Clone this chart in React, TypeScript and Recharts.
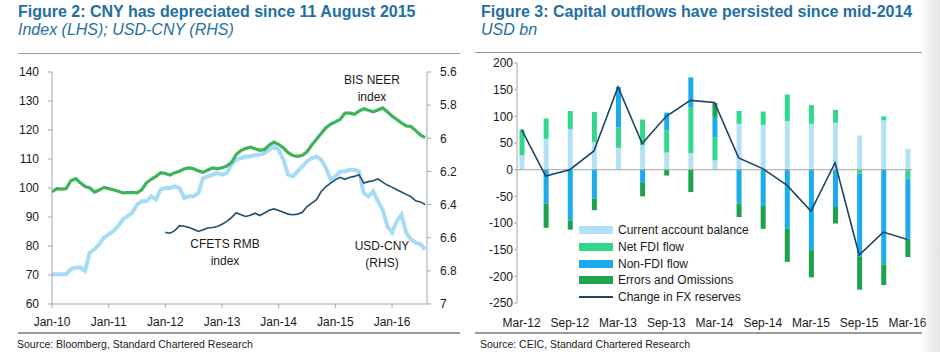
import React from "react";
import {
  LineChart, Line, XAxis, YAxis,
  ComposedChart, Bar, ReferenceLine, Legend,
} from "recharts";

const FONT = "'Liberation Sans', Arial, Helvetica, sans-serif";
const TITLE_BLUE = "#1f6fa3";
const RULE = "#9a9a9a";
const AXIS = "#a6a6a6";
const TXT = "#1a1a1a";

// ---- Figure 2: monthly, Jan-10 .. Aug-16
const yearLabels = ["Jan-10", "Jan-11", "Jan-12", "Jan-13", "Jan-14", "Jan-15", "Jan-16"];

const bisNeer = [
  98.6, 99.8, 99.6, 99.8, 102.5, 103.2, 101.8, 100.5, 100.0, 98.6, 99.3, 100.2,
  99.8, 99.4, 98.9, 98.3, 98.4, 98.5, 98.3, 99.4, 101.8, 103.0, 104.0, 105.3,
  105.0, 104.5, 105.3, 105.8, 106.6, 106.9, 106.6, 105.9, 105.4, 106.2, 106.9, 106.6,
  107.0, 107.6, 108.8, 111.5, 112.9, 113.6, 114.1, 113.5, 113.0, 113.3, 114.8, 115.8,
  115.0, 113.8, 112.2, 111.2, 110.9, 111.3, 112.5, 114.8, 116.8, 118.8, 120.8, 122.0,
  122.8, 123.6, 125.8, 125.9, 125.4, 126.5, 127.3, 126.8, 126.3, 126.9, 127.6, 126.3,
  124.8, 123.6, 122.4, 121.4, 121.2, 119.8, 118.3, 117.4,
];

const usdCny = [
  6.82, 6.82, 6.82, 6.82, 6.79, 6.78, 6.78, 6.80, 6.69, 6.67, 6.64, 6.60,
  6.58, 6.56, 6.53, 6.49, 6.47, 6.45, 6.40, 6.38, 6.38, 6.35, 6.37, 6.31,
  6.30, 6.30, 6.29, 6.30, 6.36, 6.35, 6.35, 6.33, 6.24, 6.23, 6.22, 6.21,
  6.22, 6.21, 6.16, 6.13, 6.12, 6.11, 6.11, 6.10, 6.10, 6.09, 6.07, 6.05,
  6.07, 6.13, 6.22, 6.23, 6.20, 6.17, 6.14, 6.12, 6.11, 6.13, 6.18, 6.25,
  6.23, 6.20, 6.20, 6.19, 6.19, 6.20, 6.33, 6.35, 6.32, 6.38, 6.43, 6.53,
  6.57, 6.50, 6.46, 6.57, 6.61, 6.63, 6.64, 6.67,
];

// CFETS series starts Jan-12 (month 24)
const CFETS_START = 24;
const cfets = [
  84.7, 84.4, 85.3, 87.0, 86.8, 86.4, 85.8, 85.0, 85.6, 86.2, 86.4, 86.7,
  87.5, 88.5, 89.8, 91.5, 90.8, 90.2, 90.6, 91.3, 90.5, 91.4, 92.3, 92.8,
  92.2, 91.6, 91.0, 90.8, 91.0, 91.6, 93.6, 94.8, 96.0, 98.8, 100.5, 101.7,
  102.8, 103.7, 103.0, 103.6, 104.0, 104.6, 101.7, 102.2, 102.5, 103.1, 102.0, 101.0,
  100.3, 99.4, 98.6, 97.8, 97.0, 95.6, 95.2, 94.3,
];

const leftTicks = [60, 70, 80, 90, 100, 110, 120, 130, 140];
const rightTicks = [5.6, 5.8, 6, 6.2, 6.4, 6.6, 6.8, 7];

const fxRows = bisNeer.map((v, m) => ({
  m,
  neer: v,
  usd: usdCny[m],
  cfets: m >= CFETS_START ? cfets[m - CFETS_START] : null,
}));

// ---- Figure 3: quarterly, USD bn
const quarters = [
  "Mar-12", "Jun-12", "Sep-12", "Dec-12", "Mar-13", "Jun-13", "Sep-13", "Dec-13",
  "Mar-14", "Jun-14", "Sep-14", "Dec-14", "Mar-15", "Jun-15", "Sep-15", "Dec-15", "Mar-16",
];
const currentAccount = [27, 58, 76, 52, 41, 46, 32, 31, 17.5, 86, 84, 91, 86, 88, 64, 92.5, 39];
const netFdi = [48, 38, 34, 56, 38, 48, 42, 85, 42.5, 24, 25, 50, 35, 24, -7, 7.5, -17];
const nonFdi = [0, -64, -95, -54, 76, -25, 33, 57, 39, -64, -68, -111, -151, -70, -156, -177.5, -112];
const errors = [0, -45, -17.5, -22, 0, -25, -11, -42, 26, -25, -43, -62, -51, -31, -62, -39, -35];
const fxChange = [75, -12, 0, 35, 155, 49, 100, 130, 126, 22, 2, -29, -77.5, 13, -160, -117, -131];

const flowTicks = [-250, -200, -150, -100, -50, 0, 50, 100, 150, 200];

const flowRows = quarters.map((q, i) => ({
  i,
  q,
  ca: currentAccount[i],
  fdi: netFdi[i],
  nonfdi: nonFdi[i],
  eo: errors[i],
  fx: fxChange[i],
}));

const C_CA = "#b3e0f7";
const C_FDI = "#2fd88a";
const C_NON = "#1badeb";
const C_EO = "#1ea24e";
const C_FX = "#1b4566";

const legendItems = [
  { name: "Current account balance", color: C_CA, line: false },
  { name: "Net FDI flow", color: C_FDI, line: false },
  { name: "Non-FDI flow", color: C_NON, line: false },
  { name: "Errors and Omissions", color: C_EO, line: false },
  { name: "Change in FX reserves", color: C_FX, line: true },
];

const tickStyle = { fontSize: 12, fill: TXT, fontFamily: FONT };

function FlowLegend() {
  return (
    <div style={{ fontFamily: FONT, fontSize: 12, color: TXT }}>
      {legendItems.map((it) => (
        <div key={it.name} style={{ display: "flex", alignItems: "center", height: 16.7 }}>
          <span
            style={{
              display: "inline-block",
              width: 34,
              height: it.line ? 1.5 : 8,
              background: it.color,
              marginRight: 5,
            }}
          />
          <span style={{ whiteSpace: "nowrap" }}>{it.name}</span>
        </div>
      ))}
    </div>
  );
}

const Title = ({ x, title, sub }: { x: number; title: string; sub: string }) => (
  <>
    <div
      style={{
        position: "absolute", left: x, top: 3, fontFamily: FONT, fontSize: 16,
        fontWeight: "bold", color: TITLE_BLUE, whiteSpace: "nowrap",
      }}
    >
      {title}
    </div>
    <div
      style={{
        position: "absolute", left: x, top: 21, fontFamily: FONT, fontSize: 16,
        fontStyle: "italic", color: TITLE_BLUE, whiteSpace: "nowrap",
      }}
    >
      {sub}
    </div>
  </>
);

const Rule = ({ x, y, w }: { x: number; y: number; w: number }) => (
  <div style={{ position: "absolute", left: x, top: y, width: w, height: 1.5, background: RULE }} />
);

const Note = ({ x, y, text }: { x: number; y: number; text: string[] }) => (
  <div
    style={{
      position: "absolute", left: x - 60, top: y, width: 120, textAlign: "center",
      fontFamily: FONT, fontSize: 12, lineHeight: "16.5px", color: TXT,
    }}
  >
    {text.map((t) => <div key={t}>{t}</div>)}
  </div>
);

export default function App() {
  return (
    <div style={{ position: "absolute", left: 0, top: 0, width: 940, height: 352, background: "#fff", overflow: "hidden" }}>
      <Title x={18} title="Figure 2: CNY has depreciated since 11 August 2015" sub="Index (LHS); USD-CNY (RHS)" />
      <Title x={481} title="Figure 3: Capital outflows have persisted since mid-2014" sub="USD bn" />
      <Rule x={18} y={52.5} w={442} />
      <Rule x={475} y={51.5} w={447} />
      <Rule x={18} y={332} w={442} />
      <Rule x={475} y={332} w={447} />

      <div style={{ position: "absolute", left: 0, top: 60 }}>
        <LineChart width={470} height={270} data={fxRows} margin={{ top: 12, right: 3, left: 12, bottom: 1 }}>
          <XAxis
            dataKey="m" type="number" domain={[0, 79.4]}
            ticks={yearLabels.map((_, k) => k * 12)}
            tickFormatter={(v: number) => yearLabels[v / 12]}
            tick={tickStyle} tickSize={4} tickMargin={9} height={25}
            axisLine={{ stroke: AXIS }} tickLine={{ stroke: AXIS }}
          />
          <YAxis
            yAxisId="l" domain={[60, 140]} ticks={leftTicks} width={40}
            tick={tickStyle} tickSize={4} tickMargin={9}
            axisLine={{ stroke: AXIS }} tickLine={{ stroke: AXIS }}
          />
          <YAxis
            yAxisId="r" orientation="right" reversed domain={[5.6, 7]} ticks={rightTicks} width={40}
            tickFormatter={(v: number) => String(v)}
            tick={tickStyle} tickSize={4} tickMargin={9}
            axisLine={{ stroke: AXIS }} tickLine={{ stroke: AXIS }}
          />
          <Line yAxisId="r" dataKey="usd" type="linear" stroke="#a6dcf5" strokeWidth={4} dot={false} isAnimationActive={false} />
          <Line yAxisId="l" dataKey="neer" type="linear" stroke="#3db35a" strokeWidth={3.2} dot={false} isAnimationActive={false} />
          <Line yAxisId="l" dataKey="cfets" type="linear" stroke="#1d4e6e" strokeWidth={1.6} dot={false} isAnimationActive={false} />
        </LineChart>
      </div>
      <Note x={372} y={72} text={["BIS NEER", "index"]} />
      <Note x={225} y={236} text={["CFETS RMB", "index"]} />
      <Note x={382} y={238} text={["USD-CNY", "(RHS)"]} />

      <div style={{ position: "absolute", left: 470, top: 50 }}>
        <ComposedChart
          width={462} height={290} data={flowRows} stackOffset="sign"
          margin={{ top: 13, right: 20, left: 7, bottom: 7 }}
        >
          <XAxis
            dataKey="i" type="number" domain={[-0.19, 16.19]}
            ticks={quarters.map((_, k) => k).filter((k) => k % 2 === 0)}
            tickFormatter={(v: number) => quarters[v]}
            tick={tickStyle} tickSize={0} tickMargin={15} interval={0}
            axisLine={false} tickLine={false}
          />
          <YAxis
            domain={[-250, 200]} ticks={flowTicks} width={40}
            tick={tickStyle} tickSize={3} tickMargin={1}
            axisLine={{ stroke: AXIS }} tickLine={{ stroke: AXIS }}
          />
          <ReferenceLine y={0} stroke={AXIS} />
          <Bar dataKey="ca" stackId="s" fill={C_CA} barSize={5} isAnimationActive={false} />
          <Bar dataKey="fdi" stackId="s" fill={C_FDI} barSize={5} isAnimationActive={false} />
          <Bar dataKey="nonfdi" stackId="s" fill={C_NON} barSize={5} isAnimationActive={false} />
          <Bar dataKey="eo" stackId="s" fill={C_EO} barSize={5} isAnimationActive={false} />
          <Line dataKey="fx" type="linear" stroke={C_FX} strokeWidth={1.6} dot={false} isAnimationActive={false} />
          <Legend
            layout="vertical" align="center" verticalAlign="middle"
            wrapperStyle={{ left: 109, top: 172, width: 200 }}
            content={() => <FlowLegend />}
          />
        </ComposedChart>
      </div>
      <div
        style={{
          position: "absolute", left: 920, top: 0, width: 20, height: 352,
          background: "linear-gradient(to right, rgba(230,230,230,0), rgba(222,222,222,0.85))",
        }}
      />

      <div style={{ position: "absolute", left: 17, top: 338, fontFamily: FONT, fontSize: 10.5, color: TXT }}>
        Source: Bloomberg, Standard Chartered Research
      </div>
      <div style={{ position: "absolute", left: 480, top: 338, fontFamily: FONT, fontSize: 10.5, color: TXT }}>
        Source: CEIC, Standard Chartered Research
      </div>
    </div>
  );
}
